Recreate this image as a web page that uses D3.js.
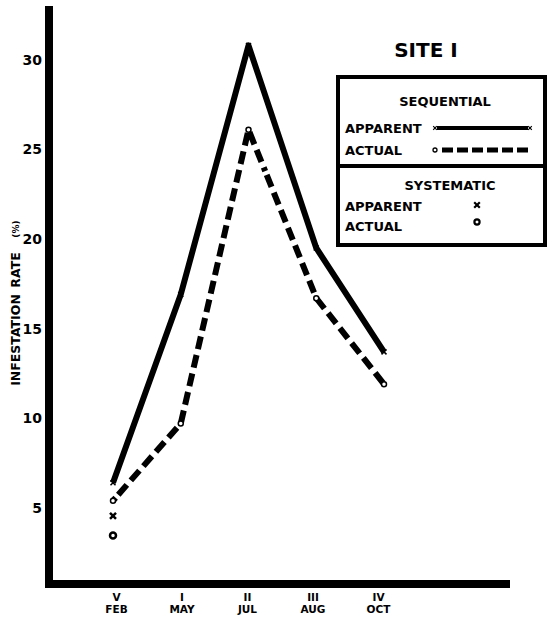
<!DOCTYPE html>
<html><head><meta charset="utf-8">
<script src="https://cdn.jsdelivr.net/npm/d3@7"></script>
<style>
body{margin:0;background:#fff}
svg{display:block}
text{font-family:"DejaVu Sans",sans-serif;font-weight:bold;fill:#000}
</style>
</head><body>
<svg id="c" width="548" height="618"></svg>
<script>
// ---- data ----
const categories = ["FEB", "MAY", "JUL", "AUG", "OCT"];
const romans = ["V", "I", "II", "III", "IV"];
const seqApparent = [6.4, 16.9, 30.8, 19.5, 13.7];
const seqActual = [5.4, 9.7, 26.1, 16.7, 11.9];
const sysCategories = ["FEB"];
const sysApparent = [4.55];
const sysActual = [3.45];
const yTicks = [5, 10, 15, 20, 25, 30];
const title = "SITE I";

// ---- layout ----
const svg = d3.select("#c");
const x = d3.scalePoint().domain(categories).range([113, 384]);
const xLab = d3.scalePoint().domain(categories).range([116, 378]);
const y = d3.scaleLinear().domain([0.75, 33]).range([584, 6]);
const axisX = 49, axisRight = 510;

// y axis labels
const gy = svg.append("g").attr("transform", `translate(${axisX},0)`)
  .call(d3.axisLeft(y).tickValues(yTicks).tickSize(0).tickPadding(7).tickFormat(d3.format("d")));
gy.select(".domain").remove();
gy.selectAll(".tick text").attr("font-family", "DejaVu Sans").attr("font-weight", "bold").attr("font-size", 14).attr("fill", "#000");

// x axis labels
const gx = svg.append("g").attr("transform", `translate(0,${y.range()[0]})`)
  .call(d3.axisBottom(xLab).tickSize(0).tickFormat(""));
gx.select(".domain").remove();
gx.selectAll(".tick").each(function(d, i) {
  const g = d3.select(this);
  g.append("text").attr("y", 16.5).attr("text-anchor", "middle").attr("font-size", 10.5).text(romans[i]);
  g.append("text").attr("y", 29).attr("text-anchor", "middle").attr("font-size", 10.5).text(d);
});

// axis lines
svg.append("line").attr("x1", axisX).attr("x2", axisX).attr("y1", y.range()[1]).attr("y2", y.range()[0] + 4)
  .attr("stroke", "#000").attr("stroke-width", 8);
svg.append("line").attr("x1", axisX - 4).attr("x2", axisRight).attr("y1", y.range()[0]).attr("y2", y.range()[0])
  .attr("stroke", "#000").attr("stroke-width", 8);

// y title
const yt = svg.append("g").attr("transform", "translate(20,0) rotate(-90)");
yt.append("text").attr("x", -340).attr("y", 0).attr("text-anchor", "middle").attr("font-size", 12.5).text("INFESTATION");
yt.append("text").attr("x", -270).attr("y", 0).attr("text-anchor", "middle").attr("font-size", 12.5).text("RATE");
yt.append("text").attr("x", -229).attr("y", -1).attr("text-anchor", "middle").attr("font-size", 9).text("(%)");

// lines
const line = d3.line().x((d, i) => x(categories[i])).y(d => y(d));
svg.append("path").datum(seqApparent).attr("d", line).attr("fill", "none")
  .attr("stroke", "#000").attr("stroke-width", 6).attr("stroke-linejoin", "round");
svg.append("path").datum(seqActual).attr("d", line).attr("fill", "none")
  .attr("stroke", "#000").attr("stroke-width", 6).attr("stroke-dasharray", "4,4,13,6,13,6,13,6,13,6,13,6,13,6,13,6,13,6,13,6,13,6,13,6,13,6,13,6,13,6,13,6,13,6,13,6,13,6,13,6,13,6,13,6,13,6,13,6");

function xMark(g, cx, cy, s, w) {
  g.append("path").attr("d", `M${cx - s},${cy - s}L${cx + s},${cy + s}M${cx - s},${cy + s}L${cx + s},${cy - s}`)
    .attr("stroke", "#000").attr("stroke-width", w).attr("fill", "none");
}
const marks = svg.append("g");
seqApparent.forEach((v, i) => xMark(marks, x(categories[i]), y(v), 2.5, 1.5));
seqActual.forEach((v, i) => marks.append("circle").attr("cx", x(categories[i])).attr("cy", y(v)).attr("r", 2.5)
  .attr("fill", "#fff").attr("stroke", "#000").attr("stroke-width", 1.5));
sysApparent.forEach((v, i) => xMark(marks, x(sysCategories[i]), y(v), 3, 2.5));
sysActual.forEach((v, i) => marks.append("circle").attr("cx", x(sysCategories[i])).attr("cy", y(v)).attr("r", 3)
  .attr("fill", "#fff").attr("stroke", "#000").attr("stroke-width", 2.5));

// title
svg.append("text").attr("x", 426).attr("y", 57).attr("text-anchor", "middle").attr("font-size", 20).text(title);

// legend
const lg = svg.append("g");
lg.append("rect").attr("x", 338).attr("y", 77).attr("width", 207).attr("height", 168)
  .attr("fill", "none").attr("stroke", "#000").attr("stroke-width", 4);
lg.append("line").attr("x1", 338).attr("x2", 545).attr("y1", 166).attr("y2", 166).attr("stroke", "#000").attr("stroke-width", 4);
const lt = (tx, ty, s, anchor) => lg.append("text").attr("x", tx).attr("y", ty).attr("text-anchor", anchor || "start")
  .attr("dominant-baseline", "central").attr("font-size", 13).text(s);
lt(445, 101, "SEQUENTIAL", "middle");
lt(345, 128, "APPARENT");
lt(345, 150, "ACTUAL");
lt(450, 185, "SYSTEMATIC", "middle");
lt(345, 206, "APPARENT");
lt(345, 226, "ACTUAL");
lg.append("line").attr("x1", 437).attr("x2", 528).attr("y1", 128).attr("y2", 128).attr("stroke", "#000").attr("stroke-width", 4);
xMark(lg, 435, 128, 1.8, 1.2); xMark(lg, 530, 128, 1.8, 1.2);
lg.append("circle").attr("cx", 435).attr("cy", 150).attr("r", 2).attr("fill", "#fff").attr("stroke", "#000").attr("stroke-width", 1.3);
lg.append("line").attr("x1", 442).attr("x2", 530).attr("y1", 150).attr("y2", 150).attr("stroke", "#000").attr("stroke-width", 5)
  .attr("stroke-dasharray", "11,4");
xMark(lg, 477, 205, 2.8, 2.2);
lg.append("circle").attr("cx", 477).attr("cy", 222).attr("r", 2.6).attr("fill", "#fff").attr("stroke", "#000").attr("stroke-width", 2.2);
</script>
</body></html>
